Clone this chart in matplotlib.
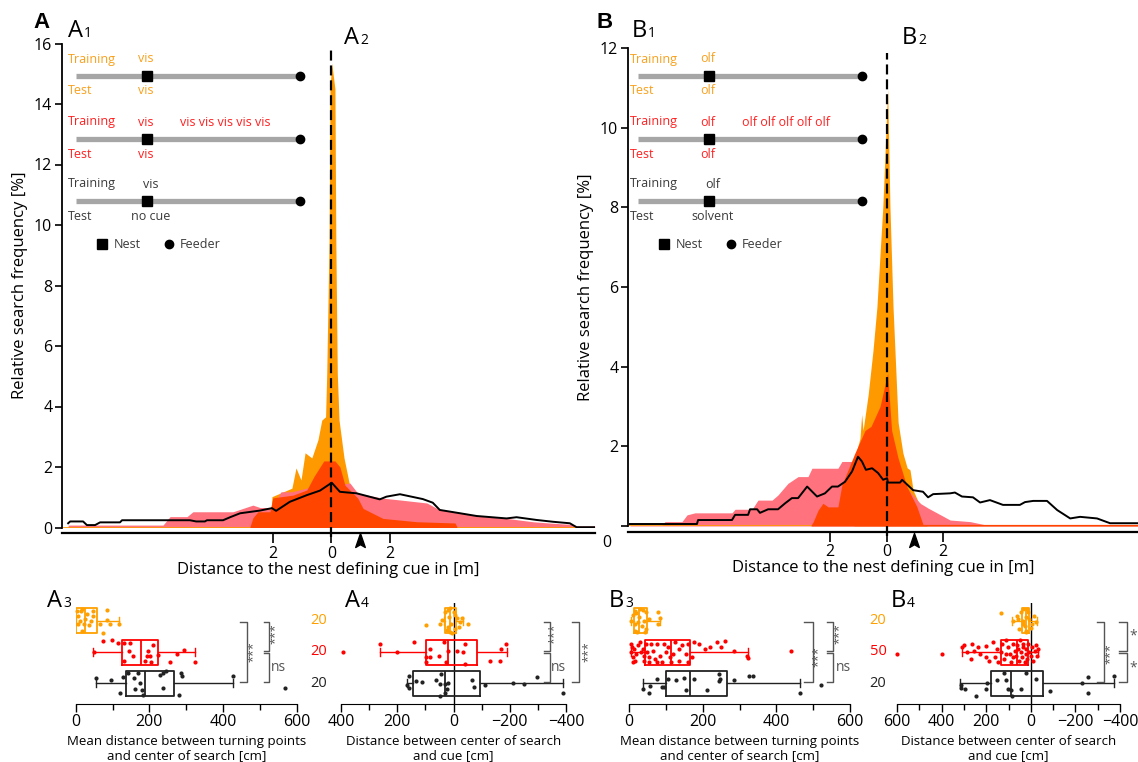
import matplotlib
matplotlib.use('Agg')
import matplotlib.pyplot as plt
import numpy as np
from matplotlib.path import Path

plt.rcParams['font.family'] = ['Open Sans', 'DejaVu Sans']

W, H = 1138, 762

ORANGE = '#FF9900'
PINK = '#FF727E'
DRED = '#FF4500'
T_OR = '#F9A01B'
T_RED = '#FF2020'
T_DARK = '#3A3A3A'
GRAY = '#A6A6A6'
SIG = '#555555'
BOXC = ['#FFA000', '#FF0000', '#222222']

# ---------------- A2: search frequency, visual cue ----------------
a_black_x = [-8.99, -8.92, -8.48, -8.35, -8.07, -7.90, -7.22, -7.15, -4.83, -4.62, -4.32, -4.25,
             -3.70, -3.46, -3.12, -2.44, -2.03, -1.89, -1.42, -0.84, -0.39, 0.01, 0.29, 0.86,
             1.65, 1.88, 2.34, 3.12, 3.46, 3.70, 4.27, 4.96, 5.98, 6.32, 7.00, 7.56, 8.14, 8.37, 8.99]
a_black_y = [0.14, 0.20, 0.20, 0.08, 0.08, 0.17, 0.17, 0.24, 0.24, 0.20, 0.20, 0.24,
             0.24, 0.34, 0.47, 0.56, 0.64, 0.55, 0.85, 1.07, 1.22, 1.48, 1.18, 1.13,
             0.93, 1.02, 1.10, 0.94, 0.82, 0.58, 0.49, 0.38, 0.30, 0.34, 0.25, 0.19, 0.14, 0.01, 0.01]
a_pink_x = [-8.99, -5.75, -5.51, -4.93, -4.73, -3.36, -2.68, -2.44, -2.03, -1.72, -1.35, -0.02,
            0.46, 0.63, 0.90, 1.76, 2.34, 3.26, 3.70, 4.28, 4.97, 5.99, 6.88, 7.56, 8.24, 8.38, 8.99]
a_pink_y = [0.08, 0.08, 0.36, 0.36, 0.52, 0.52, 0.74, 0.66, 0.66, 1.18, 1.18, 1.50,
            1.45, 1.47, 1.13, 0.97, 0.91, 0.81, 0.58, 0.52, 0.38, 0.30, 0.19, 0.14, 0.10, 0.05, 0.05]
a_red_x = [-2.78, -2.68, -2.51, -2.10, -2.00, -1.31, -0.84, -0.60, -0.26, 0.12, 0.29, 0.46,
           0.90, 1.08, 1.76, 2.92, 4.22, 4.28]
a_red_y = [0.03, 0.32, 0.52, 0.52, 0.98, 1.07, 1.24, 1.68, 2.20, 2.20, 2.00, 1.40,
           0.97, 0.63, 0.30, 0.19, 0.15, 0.03]
a_or_x = [-2.10, -2.03, -1.35, -1.21, -1.04, -0.90, -0.67, -0.46, -0.33, -0.20, -0.16, -0.08,
          -0.05, 0.01, 0.12, 0.15, 0.20, 0.26, 0.43, 0.62, 0.67]
a_or_y = [0.03, 1.02, 1.30, 1.97, 1.57, 2.47, 2.30, 2.90, 3.55, 3.66, 5.10, 9.50,
          14.50, 15.35, 14.50, 9.50, 5.10, 3.55, 2.30, 1.40, 0.03]

# ---------------- B2: search frequency, olfactory cue ----------------
b_black_x = [-9.08, -6.71, -6.67, -5.47, -5.36, -4.90, -4.83, -4.58, -4.48, -4.19, -3.84, -3.59,
             -3.35, -3.13, -2.81, -2.46, -2.18, -1.93, -1.72, -1.47, -1.22, -1.01, -0.87, -0.73,
             -0.51, -0.30, -0.12, 0.02, 0.05, 0.48, 0.55, 0.94, 1.29, 1.47, 1.65, 2.25, 2.42,
             2.67, 3.06, 3.31, 3.66, 4.12, 4.72, 4.90, 5.19, 5.68, 6.04, 6.50, 6.85, 7.45, 7.91, 8.90]
b_black_y = [0.05, 0.05, 0.15, 0.15, 0.28, 0.28, 0.42, 0.42, 0.33, 0.42, 0.42, 0.57,
             0.70, 0.70, 0.99, 0.74, 0.82, 0.99, 0.99, 1.11, 1.37, 1.74, 1.62, 1.41,
             1.45, 1.33, 1.16, 1.20, 1.09, 1.09, 1.16, 0.90, 0.86, 0.72, 0.80, 0.82, 0.84,
             0.74, 0.72, 0.59, 0.65, 0.53, 0.53, 0.60, 0.63, 0.63, 0.40, 0.19, 0.23, 0.19, 0.07, 0.07]
b_pink_x = [-9.08, -7.95, -7.84, -7.24, -7.06, -6.78, -5.47, -5.36, -4.76, -4.55, -4.05, -3.84,
            -3.49, -3.13, -2.78, -2.64, -1.72, -1.58, -1.12, -0.58, 0.12, 0.65, 1.19, 1.47,
            2.25, 2.96, 3.56, 8.90]
b_pink_y = [0.02, 0.02, 0.11, 0.11, 0.28, 0.33, 0.33, 0.42, 0.42, 0.65, 0.65, 0.78,
            1.07, 1.24, 1.24, 1.45, 1.45, 1.62, 1.62, 1.65, 1.60, 1.00, 0.57, 0.45,
            0.15, 0.11, 0.02, 0.02]
b_red_x = [-2.67, -2.60, -2.42, -2.25, -2.07, -1.72, -1.58, -1.12, -0.76, -0.55, -0.23, 0.04,
           0.12, 0.18, 0.41, 0.72, 1.07, 1.29, 3.56, 8.90]
b_red_y = [0.02, 0.10, 0.40, 0.57, 0.48, 0.48, 1.03, 1.83, 2.40, 2.50, 3.00, 3.84,
           3.00, 2.40, 1.70, 0.99, 0.49, 0.04, 0.04, 0.04]
b_or_x = [-1.15, -1.08, -0.94, -0.88, -0.83, -0.65, -0.48, -0.34, -0.13, 0.04, 0.12, 0.23,
          0.41, 0.58, 0.73, 0.83, 0.94, 1.12, 1.19, 1.43]
b_or_y = [0.03, 1.83, 2.20, 2.80, 2.40, 3.30, 4.40, 5.50, 8.03, 10.97, 8.03, 5.50,
          2.60, 1.83, 1.46, 1.41, 0.90, 0.61, 0.57, 0.03]
arrow_x = 0.97

# ---------------- A3/A4/B3/B4: box plots (whislo, q1, med, q3, whishi) ----------------
a3_stats = [[0, 1, 25, 57, 118], [48, 125, 177, 223, 324], [54, 137, 189, 267, 426]]
a3_x = [[3, 7, 14, 12, 25, 30, 41, 48, 37, 66, 75, 84, 84, 93, 118, 16, 5, 23, 46, 16],
        [75, 98, 116, 132, 148, 145, 155, 131, 195, 193, 202, 224, 205, 256, 274, 295, 324, 51, 211, 188],
        [54, 95, 128, 119, 158, 168, 175, 161, 143, 179, 184, 229, 238, 245, 236, 285, 288, 281, 426, 568]]
a3_j = [[.32, .16, .30, 0, .05, .22, 0, .16, -.13, -.11, -.38, .02, .34, -.09, -.11, -.32, -.11, -.11, .32, .38],
        [.34, .40, .29, .29, .29, .02, -.13, -.27, .05, -.11, -.14, -.08, -.32, -.32, -.05, .08, -.32, 0, .24, -.29],
        [.16, .11, .19, -.32, .16, .34, .02, -.19, .32, -.22, -.38, .27, .32, .39, -.16, .34, .24, -.38, .24, -.14]]

a4_stats = [[-32, -8, 12, 29, 35], [-191, -85, 20, 99, 263], [-390, -94, 29, 143, 164]]
a4_x = [[99, 47, 41, 29, 20, 15, 8, 0, -12, -23, -53, 12, 6, 18, -6, -18, -29, 23, -6, 12],
        [394, 263, 202, 140, 99, 82, 82, 50, 35, 27, -41, -12, -41, -129, -164, -170, -187, -35, 18, 99],
        [160, 164, 158, 134, 111, 47, 43, 47, 32, 29, 20, -64, -74, -111, -211, -249, -298, -390, 23, 64]]
a4_j = [[-.14, -.09, .02, .29, .34, .13, -.09, .29, .08, -.03, -.09, -.35, -.39, -.19, -.25, -.19, .08, -.30, .18, .40],
        [0, .27, 0, .32, -.32, .11, -.16, -.14, .32, -.32, .25, .02, -.38, -.30, -.30, .09, .27, 0, .05, -.16],
        [.22, -.05, -.16, .09, .05, -.02, .30, -.41, -.02, -.30, .02, .11, -.11, -.05, .02, -.02, .19, -.30, -.19, .11]]

b3_stats = [[5, 13, 28, 50, 83], [5, 43, 113, 165, 323], [37, 100, 165, 267, 465]]
b3_x = [[10, 20, 27, 37, 45, 25, 35, 15, 23, 40, 47, 15, 30, 80, 83, 80, 55, 15, 43, 5],
        [5, 7, 5, 10, 10, 15, 20, 25, 30, 37, 40, 40, 45, 50, 53, 60, 65, 70, 77, 85,
         90, 95, 105, 110, 115, 120, 125, 135, 137, 145, 155, 160, 160, 170, 177, 190, 205, 220, 240, 250,
         260, 285, 320, 323, 440, 75, 100, 55, 33, 13],
        [37, 57, 55, 77, 95, 105, 127, 150, 155, 177, 213, 245, 247, 285, 325, 337, 465, 520, 90, 245]]
b3_j = [[.18, .25, .11, .35, .27, -.05, -.16, -.32, -.35, 0, -.27, .32, .38, .27, .08, -.11, .05, -.11, -.35, 0],
        [.27, .16, 0, -.16, -.32, -.27, -.05, .22, .32, .11, -.11, -.27, .27, 0, -.16, .27, .05, -.22, .27, -.11,
         -.32, .27, .16, -.16, -.32, -.05, .32, -.27, .11, .22, -.05, .27, -.32, -.16, .32, .27, .11, .16, .32, .16,
         .35, .03, -.11, -.19, .03, -.32, 0, -.32, 0, .11],
        [-.19, -.09, -.30, .13, -.13, .13, .11, .16, -.22, .13, -.22, .30, .13, .11, .24, .22, -.32, -.05, -.11, .09]]

b4_stats = [[-27, 7, 23, 40, 83], [-33, 12, 62, 133, 307], [-372, -55, 90, 178, 317]]
b4_x = [[132, 78, 62, 37, 28, 20, 12, 7, -5, -22, 53, 33, 20, 45, 0, 23, 57, 15, 37, -13],
        [598, 400, 307, 300, 287, 270, 262, 253, 228, 203, 187, 170, 162, 153, 133, 128, 120, 112, 103, 95,
         87, 78, 70, 67, 62, 53, 50, 45, 40, 37, 33, 28, 23, 20, 17, 12, 7, 0, -5, -10,
         -17, -22, -30, -33, 203, 237, 145, 112, 78, 57],
        [315, 312, 295, 245, 203, 195, 120, 112, 103, 87, 83, 45, 20, -22, -88, -230, -255, -255, -372, 153]]
b4_j = [[.25, 0, .16, .38, -.16, -.32, .27, .05, -.11, -.05, -.27, 0, .11, .27, -.22, -.35, .05, .38, -.11, .16],
        [-.05, -.05, .16, .22, 0, -.22, .27, .02, -.05, .18, -.27, .32, -.16, .11, 0, .27, -.22, .38, .16, -.05,
         -.32, .27, .05, -.14, .22, -.27, .38, 0, -.16, .16, .27, -.32, -.05, .11, -.22, .27, 0, -.11, .16, -.27,
         .05, .22, -.11, .11, -.16, .16, -.32, -.05, -.16, .11],
        [-.05, -.16, -.19, -.41, -.19, 0, .34, .11, -.19, -.22, -.41, -.19, .34, .13, -.24, 0, .19, -.30, .24, .11]]

a_counts = ['20', '20', '20']
b_counts = ['20', '50', '20']

fig = plt.figure(figsize=(W / 100, H / 100), dpi=100)


def add_ax(l, t, r, b):
    return fig.add_axes([l / W, 1 - b / H, (r - l) / W, (b - t) / H])


arrow_path = Path([(0, 1), (0.6, -0.75), (0, -0.4), (-0.6, -0.75), (0, 1)],
                  [Path.MOVETO, Path.LINETO, Path.LINETO, Path.LINETO, Path.CLOSEPOLY])


def main_panel(ax, xlim, ymax, bx, by, px, py, rx, ry, ox, oy, arrow_y):
    ax.fill_between(ox, oy, color=ORANGE, lw=0, zorder=1)
    ax.fill_between(px, py, color=PINK, lw=0, zorder=2)
    ax.fill_between(rx, ry, color=DRED, lw=0, zorder=3)
    ax.plot(xlim, [0, 0], color=ORANGE, lw=1.2, zorder=2.5)
    ax.plot(bx, by, color='k', lw=1.4, zorder=5)
    ax.plot([0, 0], [-0.02 * ymax, ymax * 0.99], color='k', lw=1.6, dashes=(4.5, 2.2),
            zorder=6, clip_on=False)
    ax.plot([arrow_x], [arrow_y], transform=ax.get_xaxis_transform(), marker=arrow_path,
            ms=11.5, color='k', clip_on=False, ls='none')
    ax.set_xlim(*xlim)
    ax.set_ylim(0, ymax)
    for s in ['top', 'right']:
        ax.spines[s].set_visible(False)
    ax.spines['left'].set_linewidth(1.3)
    ax.spines['bottom'].set_linewidth(1.6)
    ax.spines['bottom'].set_position(('outward', 4))
    ax.set_yticks(range(0, ymax + 1, 2))
    ax.set_xticks([-2, 0, 2])
    ax.set_xticklabels(['2', '0', '2'])
    ax.tick_params(axis='y', length=5, width=1.2, labelsize=11.5, pad=2)
    ax.tick_params(axis='x', length=7, width=1.2, labelsize=11.5, pad=2)
    ax.set_xlabel('Distance to the nest defining cue in [m]', fontsize=12, labelpad=0)
    ax.set_ylabel('Relative search frequency [%]', fontsize=12, labelpad=4)
    ax.patch.set_alpha(0)


axA = add_ax(62, 43.5, 595, 527.5)
main_panel(axA, (-9.2, 9.0), 16, a_black_x, a_black_y, a_pink_x, a_pink_y,
           a_red_x, a_red_y, a_or_x, a_or_y, -0.028)

axB = add_ax(628, 48, 1138, 526)
main_panel(axB, (-9.15, 8.9), 12, b_black_x, b_black_y, b_pink_x, b_pink_y,
           b_red_x, b_red_y, b_or_x, b_or_y, -0.031)
axB.set_yticklabels([''] + [str(v) for v in range(2, 13, 2)])
axB.text(-0.041, -0.43, '0', transform=axB.get_yaxis_transform(), fontsize=11.5,
         ha='center', va='center')


def bracket(ax, xv, xt, y0, y1):
    ax.plot([xt, xv, xv, xt], [y0, y0, y1, y1], color=SIG, lw=1, clip_on=False)


def small_panel(ax, stats, xs, js, xlim, ticks, minor, xlabel):
    for i in range(3):
        pos = 2 - i
        c = BOXC[i]
        st = stats[i]
        ax.bxp([dict(whislo=st[0], q1=st[1], med=st[2], q3=st[3], whishi=st[4], fliers=[])],
               positions=[pos], orientation='horizontal', widths=0.8, capwidths=0.25,
               showfliers=False,
               boxprops=dict(color=c, lw=1.3), medianprops=dict(color=c, lw=1.3),
               whiskerprops=dict(color=c, lw=1.0), capprops=dict(color=c, lw=1.0))
        ax.scatter(xs[i], pos + np.array(js[i]), s=9, color=c, lw=0, zorder=3, clip_on=False)
    ax.set_xlim(*xlim)
    ax.set_ylim(-0.66, 2.57)
    for s in ['top', 'right', 'left']:
        ax.spines[s].set_visible(False)
    ax.spines['bottom'].set_bounds(min(xlim), max(xlim))
    ax.set_yticks([])
    ax.set_xticks(ticks)
    ax.set_xticks(minor, minor=True)
    ax.tick_params(axis='x', which='major', length=6, width=1, labelsize=11.5, pad=1)
    ax.tick_params(axis='x', which='minor', length=4, width=1)
    ax.set_xlabel(xlabel, fontsize=9.5, labelpad=4, linespacing=1.1)
    ax.patch.set_alpha(0)


lab3 = 'Mean distance between turning points\nand center of search [cm]'
lab4 = 'Distance between center of search\nand cue [cm]'

axA3 = add_ax(75.7, 603, 296.7, 704)
small_panel(axA3, a3_stats, a3_x, a3_j, (0, 600), [0, 200, 400, 600], [100, 300, 500], lab3)
bracket(axA3, 466, 446, 1.95, 0.03)
axA3.text(481, 1.0, '***', rotation=90, color=SIG, fontsize=9, ha='center', va='center')
bracket(axA3, 526, 510, 1.95, 1.03)
bracket(axA3, 526, 510, 0.97, 0.05)
axA3.text(541, 1.6, '***', rotation=90, color=SIG, fontsize=9, ha='center', va='center')
axA3.text(550, 0.5, 'ns', color=SIG, fontsize=10, ha='center', va='center')

axA4 = add_ax(341, 603, 566, 704)
small_panel(axA4, a4_stats, a4_x, a4_j, (400, -400), [400, 200, 0, -200, -400],
            [300, 100, -100, -300], lab4)
axA4.axvline(0, color='k', lw=1, zorder=1)
bracket(axA4, -343, -322, 1.95, 1.03)
bracket(axA4, -343, -322, 0.97, 0.05)
axA4.text(-360, 1.6, '***', rotation=90, color=SIG, fontsize=9, ha='center', va='center')
axA4.text(-374, 0.5, 'ns', color=SIG, fontsize=10, ha='center', va='center')
bracket(axA4, -445, -420, 1.95, 0.03)
axA4.text(-480, 1.0, '***', rotation=90, color=SIG, fontsize=9, ha='center', va='center')

axB3 = add_ax(629, 603, 850, 704)
small_panel(axB3, b3_stats, b3_x, b3_j, (0, 600), [0, 200, 400, 600], [100, 300, 500], lab3)
bracket(axB3, 500, 475, 1.95, 0.03)
axB3.text(515, 0.85, '***', rotation=90, color=SIG, fontsize=9, ha='center', va='center')
bracket(axB3, 555, 537, 1.95, 1.03)
bracket(axB3, 555, 537, 0.97, 0.05)
axB3.text(572, 1.6, '***', rotation=90, color=SIG, fontsize=9, ha='center', va='center')
axB3.text(583, 0.5, 'ns', color=SIG, fontsize=10, ha='center', va='center')

axB4 = add_ax(897, 603, 1120, 704)
small_panel(axB4, b4_stats, b4_x, b4_j, (600, -400), [600, 400, 200, 0, -200, -400],
            [500, 300, 100, -100, -300], lab4)
axB4.axvline(0, color='k', lw=1, zorder=1)
bracket(axB4, -327, -297, 1.95, 0.03)
axB4.text(-355, 0.95, '***', rotation=90, color=SIG, fontsize=9, ha='center', va='center')
bracket(axB4, -430, -397, 1.95, 1.03)
bracket(axB4, -430, -397, 0.97, 0.05)
axB4.text(-458, 1.52, '*', color=SIG, fontsize=10, ha='center', va='center')
axB4.text(-458, 0.48, '*', color=SIG, fontsize=10, ha='center', va='center')

# ---------------- overlay: panel letters, schematics, counts ----------------
ov = fig.add_axes([0, 0, 1, 1], zorder=10)
ov.set_xlim(0, W)
ov.set_ylim(H, 0)
ov.axis('off')
ov.patch.set_alpha(0)


def panel_label(x, y, letter, num):
    ov.text(x, y, letter, fontsize=17, va='baseline')
    ov.text(x + 16, y, num, fontsize=10, va='baseline')


ov.text(33, 28, 'A', fontsize=16, fontweight='bold', va='baseline', family='Liberation Sans')
ov.text(597, 28, 'B', fontsize=16, fontweight='bold', va='baseline', family='Liberation Sans')
panel_label(68, 37, 'A', '1')
panel_label(344, 44, 'A', '2')
panel_label(632, 37, 'B', '1')
panel_label(902, 44, 'B', '2')
panel_label(47, 607, 'A', '3')
panel_label(345, 607, 'A', '4')
panel_label(609, 607, 'B', '3')
panel_label(891, 607, 'B', '4')


def schematic(x0, cue, test_ctrl):
    cols = [T_OR, T_RED, T_DARK]
    lys = [76, 139, 201]
    for i in range(3):
        ly, c = lys[i], cols[i]
        ov.plot([x0 + 8, x0 + 232], [ly, ly], color=GRAY, lw=3.8, solid_capstyle='butt')
        ov.plot(x0 + 79, ly, 's', ms=6.5, color='k')
        ov.plot(x0 + 232, ly, 'o', ms=6, color='k')
        ov.text(x0, ly - 13.5, 'Training', color=c, fontsize=9, va='baseline')
        ov.text(x0, ly + 18.5, 'Test', color=c, fontsize=9, va='baseline')
        if i < 2:
            ov.text(x0 + 70, ly - 13.5, cue, color=c, fontsize=9, va='baseline')
            ov.text(x0 + 70, ly + 18.5, cue, color=c, fontsize=9, va='baseline')
        else:
            ov.text(x0 + 82.5, ly - 13.5, cue, color=c, fontsize=9, va='baseline', ha='center')
            ov.text(x0 + 83, ly + 18.5, test_ctrl, color=c, fontsize=9, va='baseline', ha='center')
    ov.text(x0 + 112, lys[1] - 13.5, ' '.join([cue] * 5), color=T_RED, fontsize=9, va='baseline')
    ov.plot(x0 + 34.5, 243.7, 's', ms=6.5, color='k')
    ov.text(x0 + 46, 248.3, 'Nest', color=T_DARK, fontsize=9, va='baseline')
    ov.plot(x0 + 101, 243.7, 'o', ms=6, color='k')
    ov.text(x0 + 112, 248.3, 'Feeder', color=T_DARK, fontsize=9, va='baseline')


schematic(68, 'vis', 'no cue')
schematic(630, 'olf', 'solvent')

for cx, counts in [(319, a_counts), (878, b_counts)]:
    for i, (ry, c) in enumerate(zip([620.7, 651.7, 683.3], BOXC)):
        ov.text(cx, ry, counts[i], color=c, fontsize=10.5, ha='center', va='center')

fig.savefig('out.png', dpi=100)
